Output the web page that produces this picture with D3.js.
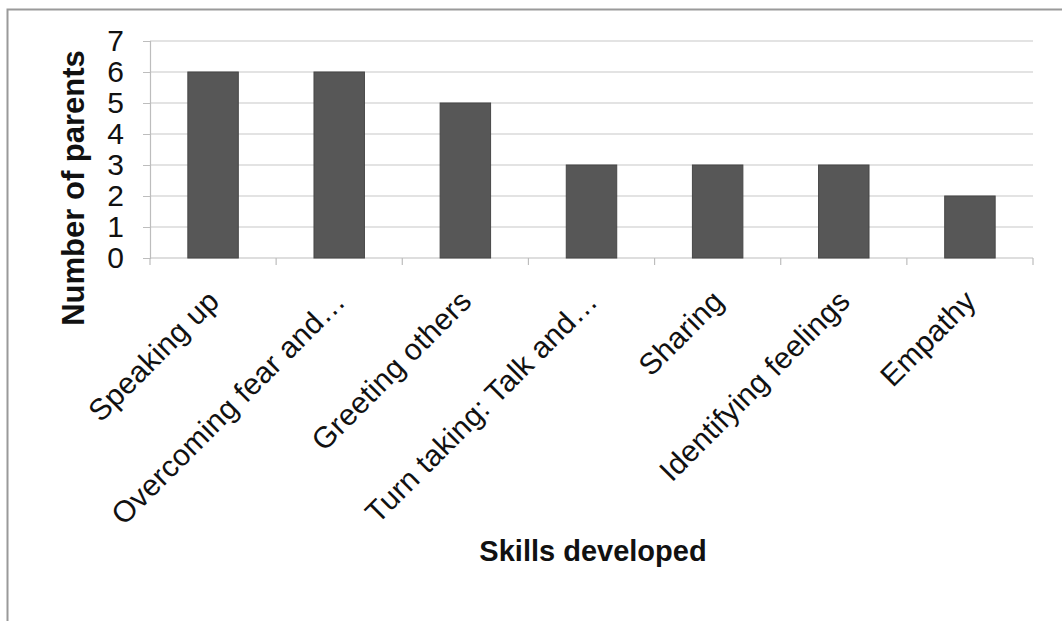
<!DOCTYPE html>
<html><head><meta charset="utf-8">
<script src="https://cdn.jsdelivr.net/npm/d3@7"></script>
<style>body{margin:0;background:#fff}svg{display:block}</style>
</head><body>
<script>
const categories = ["Speaking up","Overcoming fear and…","Greeting others","Turn taking: Talk and…","Sharing","Identifying feelings","Empathy"];
const values = [6,6,5,3,3,3,2];
const yTicks = [0,1,2,3,4,5,6,7];

(function(){
const W = 1062, H = 621;
const svg = d3.select("body").append("svg").attr("width",W).attr("height",H);
const font = "'Liberation Sans', Arial, sans-serif";

svg.append("rect").attr("x",7.5).attr("y",9.5).attr("width",W+20).attr("height",H+20)
  .attr("fill","#fff").attr("stroke","#9a9a9a").attr("stroke-width",2);

const pL = 150, pR = 1033, pT = 41, pB = 258;
const x = d3.scaleBand().domain(categories).range([pL,pR]).paddingInner(0.6).paddingOuter(0.3);
const y = d3.scaleLinear().domain([0,7]).range([pB,pT]);

// gridlines
svg.append("g").selectAll("line").data(yTicks.slice(1)).join("line")
  .attr("x1",pL).attr("x2",pR).attr("y1",d=>y(d)).attr("y2",d=>y(d))
  .attr("stroke","#c8c8c8").attr("stroke-width",1.2);

// y axis
const ya = svg.append("g").attr("transform",`translate(${pL},0)`)
  .call(d3.axisLeft(y).tickValues(yTicks).tickFormat(d3.format("d")).tickSize(7).tickPadding(19));
ya.select(".domain").attr("stroke","#bdbdbd").attr("stroke-width",1.2);
ya.selectAll(".tick line").attr("stroke","#bdbdbd");
ya.selectAll("text").attr("font-family",font).attr("font-size",30).attr("fill","#111");

// x axis with ticks at category boundaries
const bounds = d3.range(categories.length+1).map(i=>pL+i*(pR-pL)/categories.length);
svg.append("line").attr("x1",pL).attr("x2",pR).attr("y1",pB).attr("y2",pB)
  .attr("stroke","#bdbdbd").attr("stroke-width",1.2);
svg.append("g").selectAll("line").data(bounds).join("line")
  .attr("x1",d=>d).attr("x2",d=>d).attr("y1",pB).attr("y2",pB+7)
  .attr("stroke","#bdbdbd").attr("stroke-width",1.2);

// bars
svg.append("g").selectAll("rect").data(values).join("rect")
  .attr("x",(d,i)=>x(categories[i])).attr("width",x.bandwidth())
  .attr("y",d=>y(d)).attr("height",d=>y(0)-y(d))
  .attr("fill","#575757").attr("stroke","#474747").attr("stroke-width",1);

// x labels
svg.append("g").selectAll("text").data(categories).join("text")
  .attr("transform",d=>`translate(${x(d)+x.bandwidth()/2+8},${pB+45}) rotate(-45)`)
  .attr("text-anchor","end").attr("font-family",font).attr("font-size",30)
  .attr("letter-spacing","0.3px").attr("fill","#111")
  .text(d=>d);

// axis titles
svg.append("text").attr("transform",`translate(84,188) rotate(-90)`)
  .attr("text-anchor","middle").attr("font-family",font).attr("font-weight","bold")
  .attr("font-size",31).attr("fill","#111").text("Number of parents");
svg.append("text").attr("x",593).attr("y",561).attr("text-anchor","middle")
  .attr("font-family",font).attr("font-weight","bold").attr("font-size",29).attr("fill","#111")
  .text("Skills developed");
})();
</script>
</body></html>
